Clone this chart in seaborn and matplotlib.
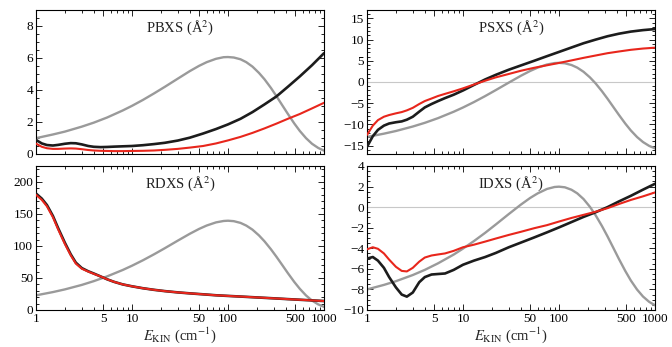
import numpy as np
import pandas as pd
import matplotlib
matplotlib.use("Agg")
import matplotlib.pyplot as plt
from matplotlib.ticker import FixedLocator, NullFormatter, MultipleLocator
import seaborn as sns

# ---------------- data ----------------
energy = [1, 1.15, 1.3, 1.5, 1.7, 2, 2.3, 2.6, 3, 3.5, 4, 4.7, 5.5, 6.5, 8, 10,
          13, 17, 22, 30, 40, 55, 75, 100, 135, 180, 240, 320, 420, 560, 750, 1000]

gray_energy = [1, 1.5, 2, 3, 4, 5.5, 8, 10, 13, 17, 22, 30, 40, 50, 60, 75, 90, 100,
               115, 135, 155, 180, 210, 240, 280, 320, 370, 420, 490, 560, 650, 750,
               870, 1000]

pb_gray = [0.99, 1.22, 1.40, 1.71, 1.96, 2.28, 2.72, 3.01, 3.38, 3.79, 4.20, 4.71,
           5.18, 5.51, 5.74, 5.95, 6.05, 6.06, 6.03, 5.92, 5.74, 5.46, 5.07, 4.67,
           4.13, 3.61, 3.02, 2.51, 1.91, 1.44, 0.99, 0.64, 0.38, 0.21]
pb_black = [0.88, 0.66, 0.56, 0.53, 0.57, 0.64, 0.68, 0.67, 0.60, 0.50, 0.45, 0.43,
            0.44, 0.46, 0.48, 0.50, 0.55, 0.62, 0.70, 0.84, 1.02, 1.28, 1.56, 1.85,
            2.20, 2.62, 3.10, 3.60, 4.20, 4.85, 5.55, 6.30]
pb_red = [0.65, 0.45, 0.36, 0.32, 0.32, 0.34, 0.35, 0.34, 0.30, 0.25, 0.22, 0.20,
          0.19, 0.18, 0.18, 0.19, 0.20, 0.22, 0.26, 0.32, 0.40, 0.50, 0.66, 0.85,
          1.07, 1.32, 1.60, 1.90, 2.20, 2.50, 2.85, 3.20]

ps_gray = [-12.97, -12.20, -11.57, -10.51, -9.64, -8.53, -7.02, -6.02, -4.74, -3.33,
           -1.90, -0.14, 1.46, 2.60, 3.40, 4.13, 4.47, 4.52, 4.42, 4.01, 3.39, 2.42,
           1.09, -0.30, -2.17, -3.94, -5.97, -7.74, -9.81, -11.44, -12.99, -14.18,
           -15.09, -15.67]
ps_black = [-15.3, -12.8, -11.3, -10.3, -9.8, -9.5, -9.3, -8.9, -8.2, -7.0, -6.0,
            -5.2, -4.5, -3.8, -3.0, -2.0, -0.7, 0.6, 1.7, 2.9, 3.9, 5.0, 6.1, 7.1,
            8.15, 9.15, 10.0, 10.8, 11.4, 11.9, 12.25, 12.5]
ps_red = [-12.5, -10.3, -9.0, -8.2, -7.8, -7.4, -7.1, -6.7, -6.1, -5.2, -4.5, -3.9,
          -3.3, -2.8, -2.2, -1.5, -0.6, 0.3, 1.1, 1.9, 2.65, 3.35, 3.95, 4.5, 5.1,
          5.7, 6.25, 6.8, 7.2, 7.6, 7.9, 8.1]

rd_gray = [22.9, 28.0, 32.2, 39.2, 45.1, 52.5, 62.5, 69.2, 77.7, 87.1, 96.6, 108.4,
           119.1, 126.7, 132.0, 136.9, 139.1, 139.5, 138.8, 136.1, 131.9, 125.5,
           116.6, 107.3, 94.9, 83.1, 69.6, 57.7, 43.9, 33.1, 22.7, 14.8, 8.8, 4.9]
rd_black = [182, 174, 164, 147, 128, 105, 87, 74, 65.5, 60.5, 57, 52.5, 48, 44, 40,
            37, 34, 31.5, 29.5, 27.5, 26, 24.5, 23, 22, 21, 20, 19, 18, 17, 16, 15, 14]
rd_red = [180, 172, 162, 145, 126, 103, 85.5, 72.5, 64.5, 60, 56.5, 52.5, 48, 44, 40,
          37, 34, 31.5, 29.5, 27.5, 26, 24.5, 23, 22, 21, 20, 19, 18, 17, 16, 15, 14]

id_gray = [-8.00, -7.56, -7.20, -6.60, -6.10, -5.46, -4.61, -4.03, -3.30, -2.50,
           -1.68, -0.67, 0.24, 0.89, 1.34, 1.77, 1.96, 1.99, 1.93, 1.69, 1.34, 0.79,
           0.03, -0.77, -1.83, -2.84, -4.00, -5.02, -6.20, -7.13, -8.01, -8.69,
           -9.21, -9.54]
id_black = [-5.0, -4.85, -5.2, -5.9, -6.8, -7.8, -8.5, -8.7, -8.3, -7.3, -6.8, -6.55,
            -6.5, -6.45, -6.1, -5.6, -5.2, -4.85, -4.45, -3.9, -3.45, -2.95, -2.45,
            -1.97, -1.45, -0.95, -0.5, 0.0, 0.55, 1.1, 1.7, 2.27]
id_red = [-4.1, -3.9, -4.05, -4.5, -5.1, -5.8, -6.2, -6.25, -5.9, -5.3, -4.9, -4.7,
          -4.6, -4.5, -4.25, -3.9, -3.65, -3.35, -3.05, -2.7, -2.4, -2.05, -1.75,
          -1.4, -1.05, -0.75, -0.45, -0.1, 0.3, 0.7, 1.05, 1.43]

titles = ["PBXS (Å$^2$)", "PSXS (Å$^2$)", "RDXS (Å$^2$)", "IDXS (Å$^2$)"]
x_ticks = [1, 5, 10, 50, 100, 500, 1000]
x_ticklabels = ["1", "5", "10", "50", "100", "500", "1000"]

# ---------------- style ----------------
sns.set_theme(style="ticks")
plt.rcParams["font.family"] = ["Liberation Serif", "DejaVu Serif"]
plt.rcParams["mathtext.fontset"] = "stix"
plt.rcParams["axes.unicode_minus"] = True

GRAY = "#9a9a9a"
BLACK = "#1c1c1c"
RED = "#e8261c"

fig = plt.figure(figsize=(6.72, 3.47), dpi=100)
W, H = 672, 347

def mk_axes(left, top, width, height):
    return fig.add_axes([left / W, 1 - (top + height) / H, width / W, height / H])

ax_pb = mk_axes(36, 10, 288, 144)
ax_ps = mk_axes(367, 10, 288, 144)
ax_rd = mk_axes(36, 166, 288, 144)
ax_id = mk_axes(367, 166, 288, 144)

panels = [
    (ax_pb, pb_gray, pb_black, pb_red, (0, 9), [0, 2, 4, 6, 8], 0.5, False),
    (ax_ps, ps_gray, ps_black, ps_red, (-17, 17), [-15, -10, -5, 0, 5, 10, 15], 1, True),
    (ax_rd, rd_gray, rd_black, rd_red, (0, 225), [0, 50, 100, 150, 200], 10, False),
    (ax_id, id_gray, id_black, id_red, (-10, 4), [-10, -8, -6, -4, -2, 0, 2, 4], 0.5, True),
]

minor_x = [m * 10 ** d for d in range(0, 3) for m in range(2, 10) if m != 5]

for i, (ax, g, b, r, ylim, yt, ymin, zline) in enumerate(panels):
    df = pd.DataFrame({"E": energy, "black": b, "red": r})
    dg = pd.DataFrame({"E": gray_energy, "gray": g})
    if zline:
        ax.axhline(0, color="#c8c8c8", lw=0.8, zorder=1)
    sns.lineplot(data=dg, x="E", y="gray", ax=ax, color=GRAY, lw=1.7,
                 estimator=None, sort=False, zorder=2)
    sns.lineplot(data=df, x="E", y="black", ax=ax, color=BLACK, lw=1.9,
                 estimator=None, sort=False, zorder=3)
    sns.lineplot(data=df, x="E", y="red", ax=ax, color=RED, lw=1.5,
                 estimator=None, sort=False, zorder=4)
    ax.set_xscale("log")
    ax.set_xlim(1, 1000)
    ax.set_ylim(*ylim)
    ax.xaxis.set_major_locator(FixedLocator(x_ticks))
    ax.xaxis.set_minor_locator(FixedLocator(minor_x))
    ax.xaxis.set_minor_formatter(NullFormatter())
    ax.set_yticks(yt)
    ax.yaxis.set_minor_locator(MultipleLocator(ymin))
    ax.set_ylabel("")
    if i < 2:
        ax.set_xticklabels([])
        ax.set_xlabel("")
    else:
        ax.set_xticklabels(x_ticklabels)
        ax.set_xlabel(r"$E_{\mathrm{KIN}}$ (cm$^{-1}$)", fontsize=10.5, labelpad=0.5)
    ax.set_yticklabels([f"{v}".replace("-", "\u2212") for v in yt])
    ax.tick_params(which="both", direction="in", top=True, right=True,
                   labelsize=9.5, colors="black", width=0.6, pad=2)
    ax.tick_params(which="major", length=4)
    ax.tick_params(which="minor", length=2)
    for sp in ax.spines.values():
        sp.set_linewidth(0.8)
        sp.set_color("black")
        sp.set_visible(True)
    ax.text(0.5, 0.875, titles[i], transform=ax.transAxes, ha="center", va="center",
            fontsize=10.5, color="#222222")

fig.savefig("out.png", dpi=100)
